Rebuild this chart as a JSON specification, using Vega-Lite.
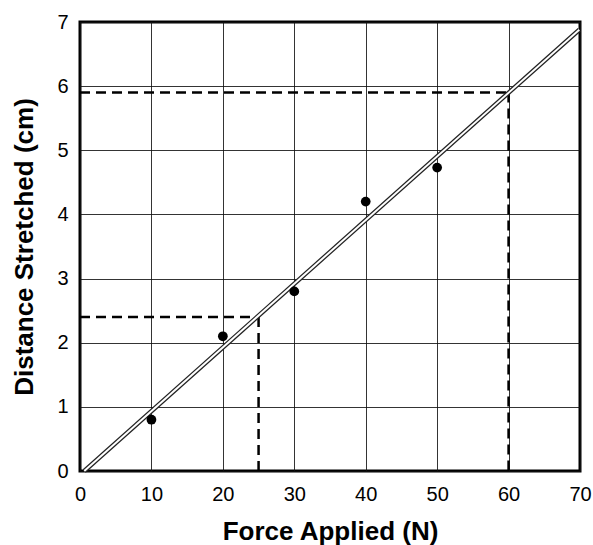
{
  "$schema": "https://vega.github.io/schema/vega-lite/v6.json",
  "width": 500,
  "height": 449,
  "autosize": {"type": "none"},
  "padding": {"left": 80, "top": 22, "right": 13, "bottom": 74},
  "background": "white",
  "config": {
    "view": {"stroke": "black", "strokeWidth": 3},
    "font": "Liberation Sans",
    "axis": {
      "domain": false,
      "ticks": false,
      "grid": true,
      "gridColor": "#111111",
      "gridOpacity": 0.85,
      "gridWidth": 1,
      "labelFont": "Liberation Sans",
      "labelFontSize": 20,
      "labelColor": "black",
      "labelFlush": false,
      "labelOverlap": false,
      "titleFont": "Liberation Sans",
      "titleFontSize": 26,
      "titleFontWeight": "bold",
      "titleColor": "black"
    }
  },
  "datasets": {
    "points": [
      {"force": 10, "distance": 0.8},
      {"force": 20, "distance": 2.1},
      {"force": 30, "distance": 2.8},
      {"force": 40, "distance": 4.2},
      {"force": 50, "distance": 4.73}
    ],
    "dashes": [
      {"x": 0, "y": 5.9, "x2": 60, "y2": 5.9},
      {"x": 60, "y": 5.9, "x2": 60, "y2": 0},
      {"x": 0, "y": 2.4, "x2": 25, "y2": 2.4},
      {"x": 25, "y": 2.4, "x2": 25, "y2": 0}
    ],
    "fit": [
      {"x": 0.6, "y": 0, "x2": 69.9, "y2": 6.88}
    ]
  },
  "layer": [
    {
      "data": {"name": "points"},
      "mark": {"type": "point", "opacity": 0},
      "encoding": {
        "x": {
          "field": "force", "type": "quantitative",
          "scale": {"domain": [0, 70], "nice": false, "zero": false},
          "axis": {
            "values": [0, 5, 10, 15, 20, 25, 30, 35, 40, 45, 50, 55, 60, 65, 70],
            "format": "d",
            "labelExpr": "datum.value % 10 === 0 ? datum.label : ''",
            "labelPadding": 13,
            "title": "Force Applied (N)",
            "titlePadding": 14
          }
        },
        "y": {
          "field": "distance", "type": "quantitative",
          "scale": {"domain": [0, 7], "nice": false, "zero": false},
          "axis": {
            "values": [0, 0.5, 1, 1.5, 2, 2.5, 3, 3.5, 4, 4.5, 5, 5.5, 6, 6.5, 7],
            "format": ".1f",
            "labelExpr": "datum.value % 1 === 0 ? format(datum.value, 'd') : ''",
            "labelPadding": 12,
            "title": "Distance Stretched (cm)",
            "titlePadding": 19
          }
        }
      }
    },
    {
      "data": {"name": "dashes"},
      "mark": {"type": "rule", "color": "black", "strokeWidth": 2.5, "strokeDash": [10, 6]},
      "encoding": {
        "x": {"field": "x", "type": "quantitative"},
        "y": {"field": "y", "type": "quantitative"},
        "x2": {"field": "x2"},
        "y2": {"field": "y2"}
      }
    },
    {
      "data": {"name": "fit"},
      "mark": {"type": "rule", "color": "#222222", "strokeWidth": 4.5},
      "encoding": {
        "x": {"field": "x", "type": "quantitative"},
        "y": {"field": "y", "type": "quantitative"},
        "x2": {"field": "x2"},
        "y2": {"field": "y2"}
      }
    },
    {
      "data": {"name": "fit"},
      "mark": {"type": "rule", "color": "white", "strokeWidth": 2},
      "encoding": {
        "x": {"field": "x", "type": "quantitative"},
        "y": {"field": "y", "type": "quantitative"},
        "x2": {"field": "x2"},
        "y2": {"field": "y2"}
      }
    },
    {
      "data": {"name": "points"},
      "mark": {"type": "circle", "color": "black", "opacity": 1, "size": 95},
      "encoding": {
        "x": {"field": "force", "type": "quantitative"},
        "y": {"field": "distance", "type": "quantitative"}
      }
    }
  ]
}
